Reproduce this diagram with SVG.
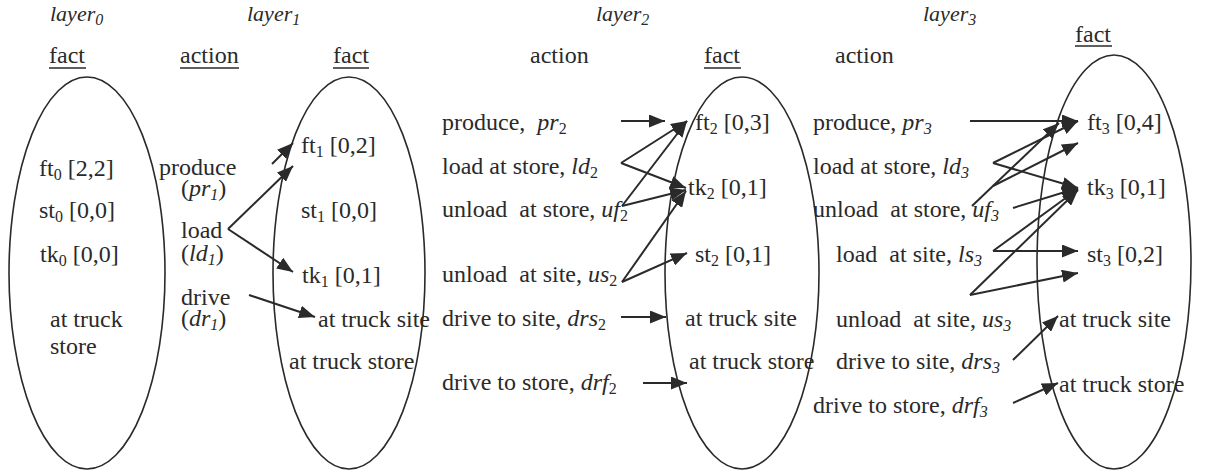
<svg xmlns="http://www.w3.org/2000/svg" width="1210" height="476" viewBox="0 0 1210 476">
<defs>
<style>
text{font-family:"Liberation Serif","Times New Roman",serif;font-size:24px;fill:#2a2a2a}
.lay{font-size:22px;font-style:italic}
.i{font-style:italic}
.sub{font-size:16px}
.ell{fill:none;stroke:#2a2a2a;stroke-width:1.6}
.ul{stroke:#2a2a2a;stroke-width:1.6}
.arr{stroke:#2a2a2a;stroke-width:2;fill:none;marker-end:url(#head)}
</style>
<marker id="head" markerUnits="userSpaceOnUse" markerWidth="17" markerHeight="13" refX="16" refY="6.5" orient="auto">
<path d="M0,0 L16,6.5 L0,13 Z" fill="#2a2a2a"/>
</marker>
</defs>
<rect width="1210" height="476" fill="#ffffff"/>

<!-- layer titles and column headers -->
<g id="headers">
<text class="lay" x="50" y="21">layer<tspan class="sub" dy="4">0</tspan></text>
<text class="lay" x="247" y="21">layer<tspan class="sub" dy="4">1</tspan></text>
<text class="lay" x="596" y="21">layer<tspan class="sub" dy="4">2</tspan></text>
<text class="lay" x="923" y="21">layer<tspan class="sub" dy="4">3</tspan></text>
<text x="49" y="63">fact</text><line class="ul" x1="49" y1="68" x2="86" y2="68"/>
<text x="180" y="63">action</text><line class="ul" x1="180" y1="68" x2="239" y2="68"/>
<text x="333" y="63">fact</text><line class="ul" x1="333" y1="68" x2="369" y2="68"/>
<text x="530" y="63">action</text>
<text x="704" y="63">fact</text><line class="ul" x1="704" y1="68" x2="741" y2="68"/>
<text x="835" y="63">action</text>
<text x="1075" y="42">fact</text><line class="ul" x1="1075" y1="46" x2="1112" y2="46"/>
</g>

<!-- fact layer 0 -->
<g id="facts0">
<ellipse class="ell" cx="87" cy="273" rx="78" ry="196"/>
<text x="39" y="176">ft<tspan class="sub" dy="4">0</tspan><tspan dy="-4"> [2,2]</tspan></text>
<text x="39" y="218">st<tspan class="sub" dy="4">0</tspan><tspan dy="-4"> [0,0]</tspan></text>
<text x="40" y="262">tk<tspan class="sub" dy="4">0</tspan><tspan dy="-4"> [0,0]</tspan></text>
<text x="50" y="327">at truck</text>
<text x="50" y="354">store</text>
</g>

<!-- action layer 1 -->
<g id="actions1">
<text x="159" y="175">produce</text>
<text x="181" y="196">(<tspan class="i">pr</tspan><tspan class="sub i" dy="4">1</tspan><tspan dy="-4">)</tspan></text>
<text x="181" y="238">load</text>
<text x="181" y="261">(<tspan class="i">ld</tspan><tspan class="sub i" dy="4">1</tspan><tspan dy="-4">)</tspan></text>
<text x="181" y="305">drive</text>
<text x="181" y="326">(<tspan class="i">dr</tspan><tspan class="sub i" dy="4">1</tspan><tspan dy="-4">)</tspan></text>
</g>

<!-- fact layer 1 -->
<g id="facts1">
<ellipse class="ell" cx="349" cy="273" rx="76" ry="196"/>
<text x="301" y="153">ft<tspan class="sub" dy="4">1</tspan><tspan dy="-4"> [0,2]</tspan></text>
<text x="301" y="218">st<tspan class="sub" dy="4">1</tspan><tspan dy="-4"> [0,0]</tspan></text>
<text x="302" y="283">tk<tspan class="sub" dy="4">1</tspan><tspan dy="-4"> [0,1]</tspan></text>
<text x="318" y="327">at truck site</text>
<text x="289" y="369">at truck store</text>
</g>

<!-- action layer 2 -->
<g id="actions2">
<text x="442" y="130">produce,&#160; <tspan class="i">pr</tspan><tspan class="sub" dy="4">2</tspan></text>
<text x="442" y="174">load at store, <tspan class="i">ld</tspan><tspan class="sub" dy="4">2</tspan></text>
<text x="442" y="217">unload&#160; at store, <tspan class="i">uf</tspan><tspan class="sub" dy="4">2</tspan></text>
<text x="442" y="282">unload&#160; at site, <tspan class="i">us</tspan><tspan class="sub" dy="4">2</tspan></text>
<text x="442" y="326">drive to site, <tspan class="i">drs</tspan><tspan class="sub" dy="4">2</tspan></text>
<text x="442" y="390">drive to store, <tspan class="i">drf</tspan><tspan class="sub" dy="4">2</tspan></text>
</g>

<!-- fact layer 2 -->
<g id="facts2">
<ellipse class="ell" cx="742" cy="273" rx="77" ry="196"/>
<text x="695" y="130">ft<tspan class="sub" dy="4">2</tspan><tspan dy="-4"> [0,3]</tspan></text>
<text x="688" y="195">tk<tspan class="sub" dy="4">2</tspan><tspan dy="-4"> [0,1]</tspan></text>
<text x="695" y="262">st<tspan class="sub" dy="4">2</tspan><tspan dy="-4"> [0,1]</tspan></text>
<text x="685" y="326">at truck site</text>
<text x="689" y="369">at truck store</text>
</g>

<!-- action layer 3 -->
<g id="actions3">
<text x="813" y="130">produce, <tspan class="i">pr</tspan><tspan class="sub i" dy="4">3</tspan></text>
<text x="813" y="174">load at store, <tspan class="i">ld</tspan><tspan class="sub i" dy="4">3</tspan></text>
<text x="813" y="217">unload&#160; at store, <tspan class="i">uf</tspan><tspan class="sub i" dy="4">3</tspan></text>
<text x="836" y="262">load&#160; at site, <tspan class="i">ls</tspan><tspan class="sub i" dy="4">3</tspan></text>
<text x="836" y="327">unload&#160; at site, <tspan class="i">us</tspan><tspan class="sub i" dy="4">3</tspan></text>
<text x="836" y="369">drive to site, <tspan class="i">drs</tspan><tspan class="sub i" dy="4">3</tspan></text>
<text x="813" y="413">drive to store, <tspan class="i">drf</tspan><tspan class="sub i" dy="4">3</tspan></text>
</g>

<!-- fact layer 3 -->
<g id="facts3">
<ellipse class="ell" cx="1114" cy="262" rx="77" ry="207"/>
<text x="1087" y="130">ft<tspan class="sub" dy="4">3</tspan><tspan dy="-4"> [0,4]</tspan></text>
<text x="1087" y="195">tk<tspan class="sub" dy="4">3</tspan><tspan dy="-4"> [0,1]</tspan></text>
<text x="1087" y="262">st<tspan class="sub" dy="4">3</tspan><tspan dy="-4"> [0,2]</tspan></text>
<text x="1059" y="327">at truck site</text>
<text x="1059" y="392">at truck store</text>
</g>

<!-- effect links from actions to facts -->
<g id="connectors">
<line class="arr" x1="272" y1="164" x2="293" y2="143"/>
<line class="arr" x1="228" y1="229" x2="293" y2="166"/>
<line class="arr" x1="228" y1="229" x2="293" y2="272"/>
<line class="arr" x1="249" y1="295" x2="315" y2="317"/>

<line class="arr" x1="621" y1="121" x2="665" y2="121"/>
<line class="arr" x1="621" y1="163" x2="687" y2="121"/>
<line class="arr" x1="621" y1="163" x2="686" y2="188"/>
<line class="arr" x1="622" y1="206" x2="687" y2="121"/>
<line class="arr" x1="622" y1="206" x2="686" y2="190"/>
<line class="arr" x1="622" y1="282" x2="686" y2="191"/>
<line class="arr" x1="622" y1="282" x2="687" y2="253"/>
<line class="arr" x1="621" y1="317" x2="666" y2="317"/>
<line class="arr" x1="643" y1="383" x2="687" y2="383"/>

<line class="arr" x1="970" y1="121" x2="1078" y2="121"/>
<line class="arr" x1="993" y1="163" x2="1078" y2="121"/>
<line class="arr" x1="993" y1="163" x2="1078" y2="188"/>
<line class="arr" x1="972" y1="206" x2="1059" y2="123"/>
<line class="arr" x1="993" y1="186" x2="1078" y2="143"/>
<line class="arr" x1="1013" y1="208" x2="1078" y2="188"/>
<line class="arr" x1="993" y1="251" x2="1078" y2="189"/>
<line class="arr" x1="993" y1="251" x2="1078" y2="251"/>
<line class="arr" x1="970" y1="295" x2="1078" y2="190"/>
<line class="arr" x1="970" y1="295" x2="1078" y2="273"/>
<line class="arr" x1="1013" y1="360" x2="1058" y2="316"/>
<line class="arr" x1="1013" y1="403" x2="1058" y2="383"/>
</g>
</svg>
